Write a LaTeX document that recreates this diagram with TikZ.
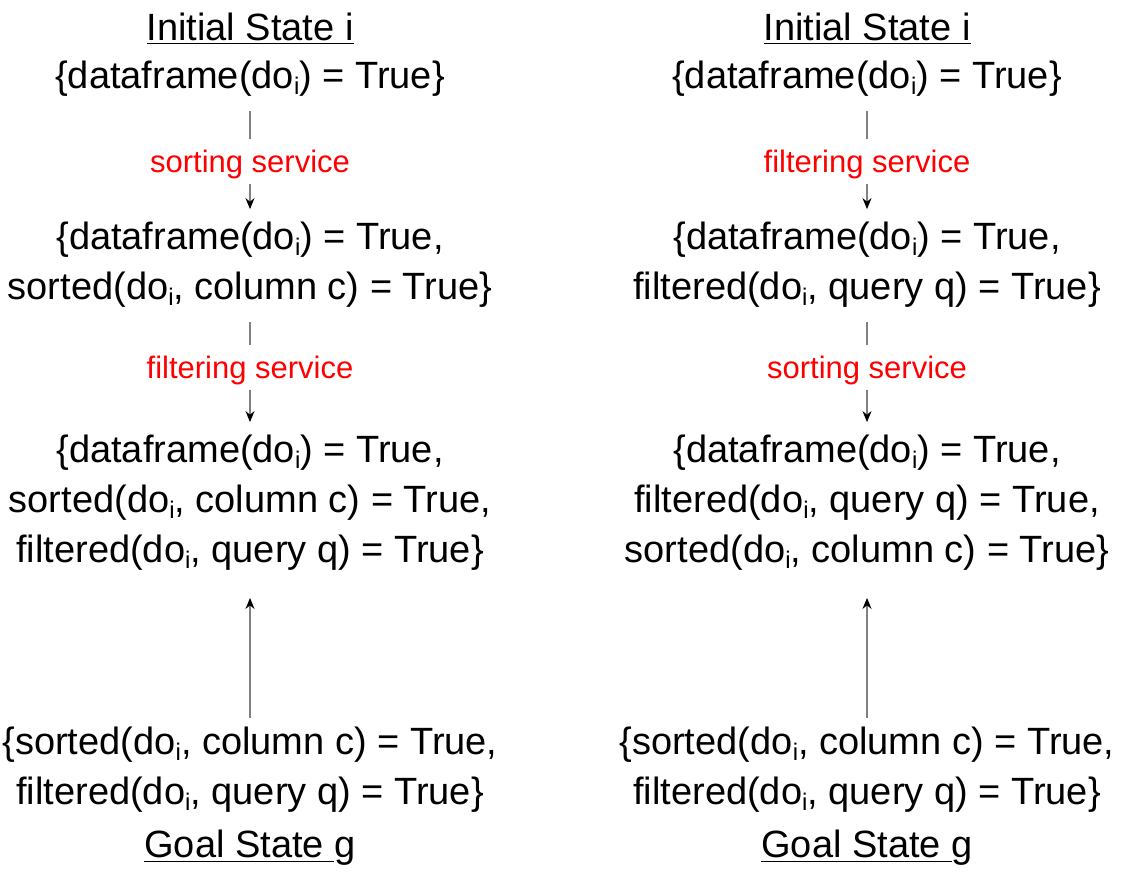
\documentclass[tikz,border=0pt]{standalone}
\usepackage{amsmath}
\usepackage{fontspec}
\setmainfont{Liberation Sans}
\usetikzlibrary{arrows.meta}
\newcommand{\doi}{do\raisebox{-0.16em}{\fontsize{24}{24}\selectfont i}}

\begin{document}
\begin{tikzpicture}[x=1pt,y=-1pt,
    every node/.style={align=center,inner sep=0pt,font=\fontsize{38}{50}\selectfont},
    service/.style={text=red,font=\fontsize{31}{36}\selectfont},
    link/.style={draw=gray,line width=1.2pt,shorten <=14pt,shorten >=10pt},
    flow/.style={draw=gray,line width=1.2pt,shorten <=5pt,shorten >=13pt,
        -{Stealth[length=11pt,width=9pt,color=black]}}]

    \useasboundingbox (0,0) rectangle (1134,871);

    % sorting first
    \node (l0) at (250,29) {\underline{Initial State i}};
    \node (l1) at (250,79) {\{dataframe(\doi) = True\}};
    \node[service] (ls1) at (250,164) {sorting service};
    \node (l2) at (250,265) {\{dataframe(\doi) = True,\\sorted(\doi, column c) = True\}};
    \node[service] (ls2) at (250,370) {filtering service};
    \node (l3) at (250,503) {\{dataframe(\doi) = True,\\sorted(\doi, column c) = True,\\filtered(\doi, query q) = True\}};
    \node (l4) at (250,770) {\{sorted(\doi, column c) = True,\\filtered(\doi, query q) = True\}};
    \node (l5) at (250,848) {\underline{Goal State\ }g};

    % filtering first
    \node (r0) at (867,29) {\underline{Initial State i}};
    \node (r1) at (867,79) {\{dataframe(\doi) = True\}};
    \node[service] (rs1) at (867,164) {filtering service};
    \node (r2) at (867,265) {\{dataframe(\doi) = True,\\filtered(\doi, query q) = True\}};
    \node[service] (rs2) at (867,370) {sorting service};
    \node (r3) at (867,503) {\{dataframe(\doi) = True,\\filtered(\doi, query q) = True,\\sorted(\doi, column c) = True\}};
    \node (r4) at (867,770) {\{sorted(\doi, column c) = True,\\filtered(\doi, query q) = True\}};
    \node (r5) at (867,848) {\underline{Goal State\ }g};

    \draw[link] (l1) -- (ls1);
    \draw[flow] (ls1) -- (l2);
    \draw[link] (l2) -- (ls2);
    \draw[flow] (ls2) -- (l3);
    \draw[flow,shorten <=9pt,shorten >=27pt] (l4) -- (l3);

    \draw[link] (r1) -- (rs1);
    \draw[flow] (rs1) -- (r2);
    \draw[link] (r2) -- (rs2);
    \draw[flow] (rs2) -- (r3);
    \draw[flow,shorten <=9pt,shorten >=27pt] (r4) -- (r3);
\end{tikzpicture}
\end{document}
